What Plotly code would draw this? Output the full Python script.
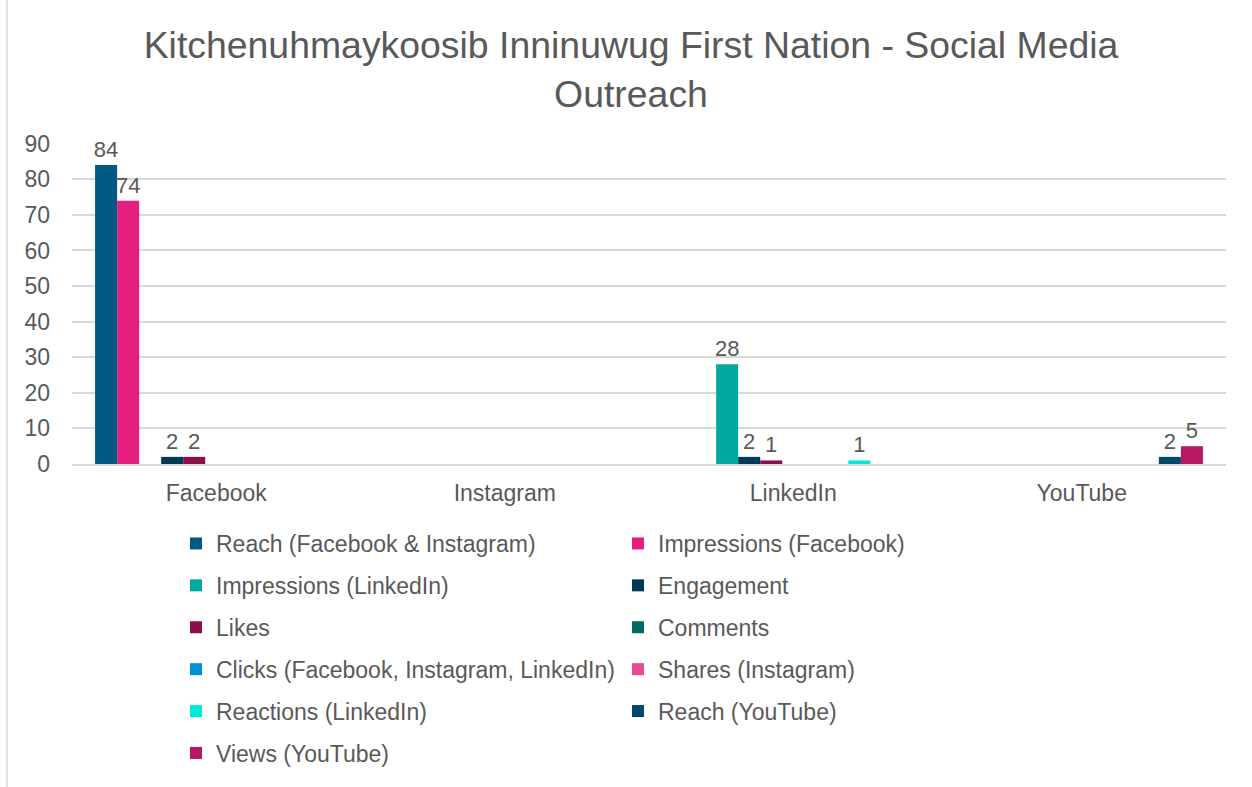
import plotly.graph_objects as go

categories = ["Facebook", "Instagram", "LinkedIn", "YouTube"]

series_names = [
    "Reach (Facebook & Instagram)",
    "Impressions (Facebook)",
    "Impressions (LinkedIn)",
    "Engagement",
    "Likes",
    "Comments",
    "Clicks (Facebook, Instagram, LinkedIn)",
    "Shares (Instagram)",
    "Reactions (LinkedIn)",
    "Reach (YouTube)",
    "Views (YouTube)",
]

reach_fb_ig = [84, None, None, None]
impressions_fb = [74, None, None, None]
impressions_li = [None, None, 28, None]
engagement = [2, None, 2, None]
likes = [2, None, 1, None]
comments = [None, None, None, None]
clicks = [None, None, None, None]
shares_ig = [None, None, None, None]
reactions_li = [None, None, 1, None]
reach_yt = [None, None, None, 2]
views_yt = [None, None, None, 5]

series_values = [reach_fb_ig, impressions_fb, impressions_li, engagement, likes,
                 comments, clicks, shares_ig, reactions_li, reach_yt, views_yt]

colors = ["#005A84", "#E61E7D", "#00A99D", "#003A57", "#8A0F4B", "#006A60",
          "#0090D5", "#E84A94", "#00EADB", "#00486E", "#B71862"]

text_color = "#595959"
grid_color = "#D9D9D9"

fig = go.Figure()
for i, (name, vals, col) in enumerate(zip(series_names, series_values, colors)):
    fig.add_trace(go.Bar(
        name=name,
        x=categories,
        y=vals,
        marker=dict(color=col, line=dict(width=0)),
        text=["" if v is None else str(v) for v in vals],
        textposition="outside",
        textfont=dict(size=22, color=text_color),
        constraintext="none",
        cliponaxis=False,
        legend="legend" if i % 2 == 0 else "legend2",
        legendgroup=name,
    ))

# plot area pixel geometry
W, H = 1252, 787
L, R, T, B = 72, 26, 143, 323
pw = W - L - R
ph = H - T - B

def px_x(p):
    return (p - L) / pw

def px_y(p):
    return (H - B - p) / ph

legend_common = dict(
    orientation="v",
    font=dict(family="Liberation Sans, Arial, sans-serif", size=23, color=text_color),
    traceorder="grouped",
    tracegroupgap=9,
    yanchor="top",
    xanchor="left",
    bgcolor="rgba(0,0,0,0)",
    itemclick=False,
    itemdoubleclick=False,
)

fig.update_layout(
    width=W,
    height=H,
    margin=dict(l=L, r=R, t=T, b=B, autoexpand=False),
    paper_bgcolor="white",
    plot_bgcolor="white",
    font=dict(family="Liberation Sans, Arial, sans-serif", color=text_color),
    barmode="group",
    bargap=0.16,
    bargroupgap=0,
    title=dict(
        text="Kitchenuhmaykoosib Inninuwug First Nation - Social Media<br>Outreach",
        font=dict(size=37.4, color=text_color),
        x=0.504,
        xanchor="center",
        y=1 - 58 / H,
        yanchor="top",
        yref="container",
    ),
    xaxis=dict(
        showgrid=False,
        showline=True,
        linecolor=grid_color,
        linewidth=1.5,
        tickfont=dict(size=23, color=text_color),
        ticks="",
        ticklabelstandoff=8,
    ),
    yaxis=dict(
        range=[0, 90.2],
        tickvals=[0, 10, 20, 30, 40, 50, 60, 70, 80, 90],
        showgrid=True,
        gridcolor=grid_color,
        gridwidth=1.5,
        zeroline=False,
        showline=False,
        tickfont=dict(size=23, color=text_color),
        ticks="",
        ticklabelstandoff=21,
    ),
    legend=dict(x=px_x(176), y=px_y(522), **legend_common),
    legend2=dict(x=px_x(618), y=px_y(522), **legend_common),
    shapes=[dict(
        type="line", xref="paper", yref="paper",
        x0=px_x(7), x1=px_x(7), y0=px_y(0), y1=px_y(H),
        line=dict(color=grid_color, width=1.5),
    )],
)

fig.write_html(
    "out.html",
    config={"displayModeBar": False},
    post_script="document.body.style.margin='0';document.body.style.overflow='hidden';",
)
